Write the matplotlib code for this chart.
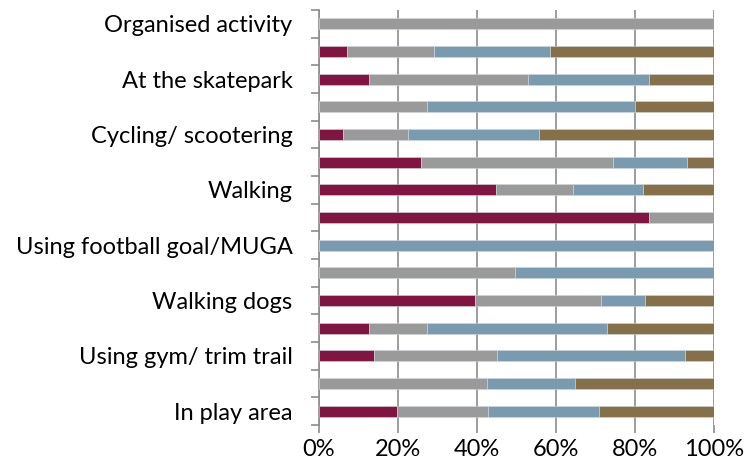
import numpy as np
import matplotlib
matplotlib.use("Agg")
import matplotlib.pyplot as plt
from matplotlib.ticker import PercentFormatter

# rows listed top to bottom; blank rows have no label
labels = ["Organised activity", "", "At the skatepark", "", "Cycling/ scootering", "",
          "Walking", "", "Using football goal/MUGA", "", "Walking dogs", "",
          "Using gym/ trim trail", "", "In play area"]

maroon = [0, 7.0, 12.6, 0, 6.2, 25.7, 44.7, 83.5, 0, 0, 39.4, 12.6, 13.9, 0, 19.7]
grey = [100, 22.1, 40.4, 27.4, 16.4, 48.8, 19.6, 16.5, 0, 49.6, 32.0, 14.8, 31.2, 42.5, 23.1]
blue = [0, 29.5, 30.6, 52.5, 33.2, 18.7, 17.8, 0, 100, 50.4, 11.1, 45.5, 47.5, 22.4, 28.2]
brown = [0, 41.4, 16.4, 20.1, 44.2, 6.8, 17.9, 0, 0, 0, 17.5, 27.1, 7.4, 35.1, 29.0]

colors = ["#7F1540", "#9A9A9A", "#7A9AAF", "#857049"]

plt.rcParams['font.family'] = ['Lato', 'DejaVu Sans']

fig = plt.figure(figsize=(7.47, 4.71), dpi=100)
ax = fig.add_axes([319 / 747, 1 - 425 / 471, 395 / 747, 415 / 471])

n = len(labels)
y = np.arange(n)[::-1]
left = np.zeros(n)
for series, c in zip([maroon, grey, blue, brown], colors):
    vals = np.array(series, dtype=float)
    ax.barh(y, vals, left=left, height=0.4, color=c, edgecolor="#D0D8DE",
            linewidth=0.4, zorder=3)
    left += vals

ax.set_xlim(0, 100)
ax.set_ylim(-0.5, n - 0.5)
ax.set_xticks(np.arange(0, 101, 20))
ax.xaxis.set_major_formatter(PercentFormatter(decimals=0))
ax.grid(axis="x", color="#8C8C8C", linewidth=1.2, zorder=0)

ax.set_yticks(y)
ax.set_yticklabels(labels)
ax.set_yticks(np.arange(-0.5, n, 1), minor=True)
ax.tick_params(axis="y", which="major", length=0, pad=19, labelsize=17)
ax.tick_params(axis="y", which="minor", length=6, width=1.2, color="#8C8C8C")
ax.tick_params(axis="x", length=6, width=1.2, color="#8C8C8C", labelsize=17, pad=4)

for s in ["top", "right", "bottom"]:
    ax.spines[s].set_visible(False)
ax.spines["left"].set_color("#8C8C8C")
ax.spines["left"].set_linewidth(1.2)

fig.savefig("out.png", dpi=100)
